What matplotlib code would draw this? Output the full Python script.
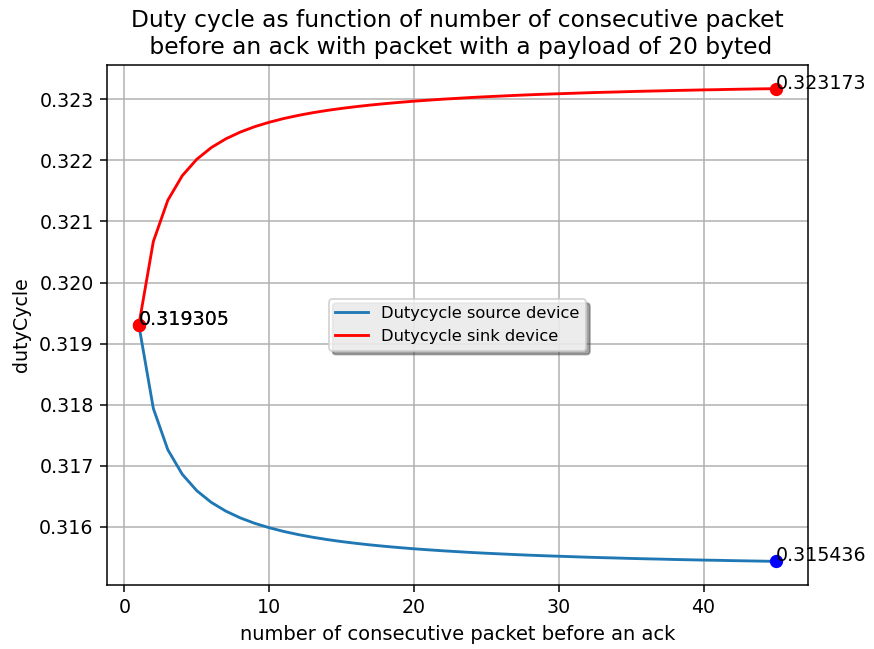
import matplotlib
matplotlib.use("Agg")
import matplotlib.pyplot as plt

# number of consecutive packets before an ack
n_packets = list(range(1, 46))

# duty cycle
duty_source = [
    0.319305, 0.317940, 0.317264, 0.316861, 0.316593, 0.316402, 0.316259, 0.316148,
    0.316059, 0.315987, 0.315926, 0.315875, 0.315831, 0.315793, 0.315760, 0.315731,
    0.315705, 0.315682, 0.315661, 0.315642, 0.315625, 0.315609, 0.315595, 0.315581,
    0.315569, 0.315558, 0.315547, 0.315537, 0.315528, 0.315520, 0.315512, 0.315504,
    0.315497, 0.315491, 0.315484, 0.315478, 0.315473, 0.315467, 0.315462, 0.315457,
    0.315453, 0.315448, 0.315444, 0.315440, 0.315436,
]
duty_sink = [
    0.319305, 0.320670, 0.321346, 0.321749, 0.322017, 0.322208, 0.322351, 0.322462,
    0.322551, 0.322623, 0.322684, 0.322735, 0.322779, 0.322817, 0.322850, 0.322879,
    0.322905, 0.322928, 0.322949, 0.322968, 0.322985, 0.323001, 0.323015, 0.323029,
    0.323041, 0.323052, 0.323063, 0.323073, 0.323082, 0.323090, 0.323098, 0.323106,
    0.323113, 0.323119, 0.323126, 0.323132, 0.323137, 0.323143, 0.323148, 0.323153,
    0.323157, 0.323162, 0.323166, 0.323170, 0.323173,
]

DPI = 136.6
fig = plt.figure(figsize=(874 / DPI, 649 / DPI), dpi=DPI)
ax = fig.add_axes([0.1224, 0.0986, 0.802, 0.8012])

ax.plot(n_packets, duty_source, label="Dutycycle source device")
ax.plot(n_packets, duty_sink, "r", label="Dutycycle sink device")

# endpoints, marked and labelled
for xs, ys, fmt in ((n_packets, duty_source, "bo"), (n_packets, duty_sink, "ro")):
    ax.plot(xs[0], ys[0], "ro")
    ax.plot(xs[-1], ys[-1], fmt)
    ax.text(xs[0], ys[0], f"{ys[0]:.6f}")
    ax.text(xs[-1], ys[-1], f"{ys[-1]:.6f}")

ax.set_title(
    "Duty cycle as function of number of consecutive packet\n"
    " before an ack with packet with a payload of 20 byted",
    fontsize=12.3,
)
ax.set_xlabel("number of consecutive packet before an ack", fontsize=10.3)
ax.set_ylabel("dutyCycle")
ax.grid(True)
ax.legend(loc="center", shadow=True, fontsize=8.6, framealpha=0.8)

fig.savefig("out.png", dpi=DPI)
